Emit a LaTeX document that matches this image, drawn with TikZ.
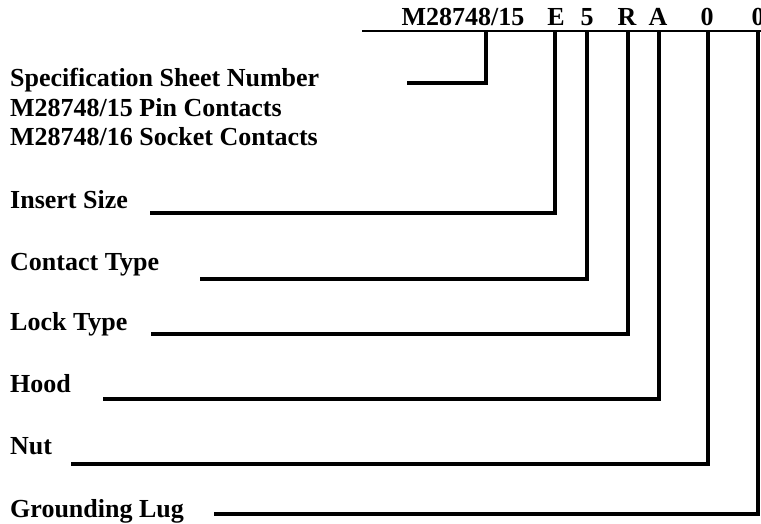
\documentclass[tikz,border=0pt]{standalone}
\usepackage{fontspec}
\setmainfont{Liberation Serif}
\begin{document}
\begin{tikzpicture}[x=1pt,y=-1pt,
  lbl/.style={anchor=base west,inner sep=0pt,font=\fontsize{26}{30}\selectfont\bfseries},
  code/.style={anchor=base,inner sep=0pt,font=\fontsize{26}{30}\selectfont\bfseries},
  leader/.style={line width=4pt},
  baseline/.style={line width=2pt}]
\useasboundingbox (0,0) rectangle (761,524);
% code string
\node[code] (cM) at (463,26) {M28748/15};
\node[code] (cE) at (556,26) {E};
\node[code] (c5) at (587,26) {5};
\node[code] (cR) at (627,26) {R};
\node[code] (cA) at (658,26) {A};
\node[code] (c0a) at (707,26) {0};
\node[code] (c0b) at (758,26) {0};
\coordinate (bl) at (362,31);
\coordinate (br) at (765,31);
\draw[baseline] (bl) -- (br);
% top ends of the leaders
\coordinate (tM) at (486,31);
\coordinate (tE) at (555,31);
\coordinate (t5) at (587,31);
\coordinate (tR) at (628,31);
\coordinate (tA) at (659,31);
\coordinate (t0a) at (708,31);
\coordinate (t0b) at (758,31);
% labels
\node[lbl] (spec) at (10,87) {Specification Sheet Number};
\node[lbl] (pin) at (10,117) {M28748/15 Pin Contacts};
\node[lbl] (sock) at (10,146) {M28748/16 Socket Contacts};
\node[lbl] (ins) at (10,208) {Insert Size};
\node[lbl] (ct) at (10,270) {Contact Type};
\node[lbl] (lt) at (10,330) {Lock Type};
\node[lbl] (hood) at (10,392) {Hood};
\node[lbl] (nut) at (10,454) {Nut};
\node[lbl] (gl) at (10,517) {Grounding Lug};
% leader start points
\coordinate (sM) at (407,83);
\coordinate (sE) at (150,213);
\coordinate (s5) at (200,279);
\coordinate (sR) at (151,334);
\coordinate (sA) at (103,399);
\coordinate (s0a) at (71,464);
\coordinate (s0b) at (214,514);
% leaders
\draw[leader] (sM) -| (tM);
\draw[leader] (sE) -| (tE);
\draw[leader] (s5) -| (t5);
\draw[leader] (sR) -| (tR);
\draw[leader] (sA) -| (tA);
\draw[leader] (s0a) -| (t0a);
\draw[leader] (s0b) -| (t0b);
\end{tikzpicture}
\end{document}
